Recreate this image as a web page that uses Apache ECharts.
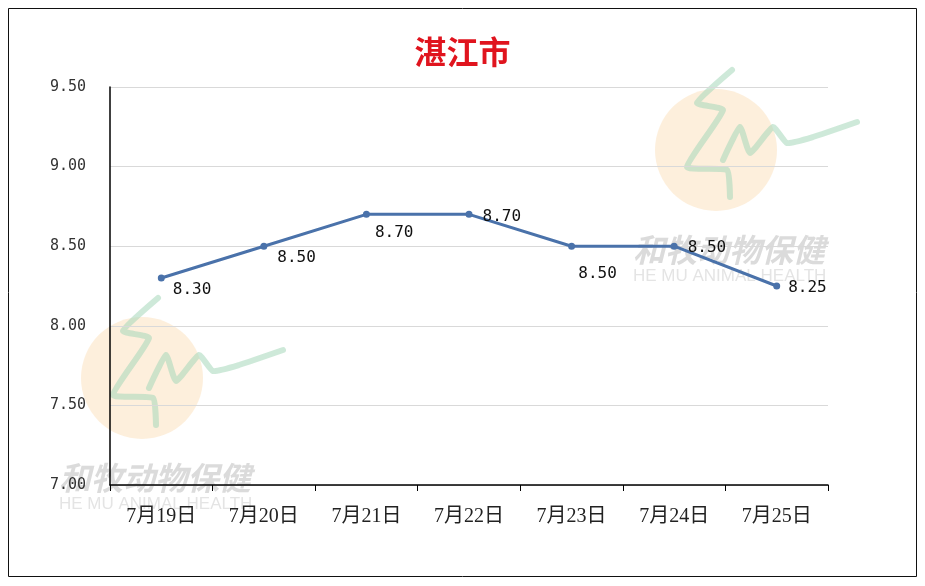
<!DOCTYPE html>
<html><head><meta charset="utf-8">
<script src="https://cdn.jsdelivr.net/npm/echarts@6/dist/echarts.min.js"></script>
<style>html,body{margin:0;padding:0;background:#fff;}#c{width:925px;height:586px;}</style>
</head><body><div id="c"></div>
<script>
const categories = ['7月19日','7月20日','7月21日','7月22日','7月23日','7月24日','7月25日'];
const prices = [8.30, 8.50, 8.70, 8.70, 8.50, 8.50, 8.25];
const yTicks = {min: 7.0, max: 9.5, interval: 0.5};
const titleText = '湛江市';

const labelOffsets = [[3,12],[5,12],[0,18],[5,2],[26,11],[5,2],[3,2]];
const labelPos = ['right','right','right','right','bottom','right','right'];

function logo(dx, dy){
  const pts = (arr)=>arr.map(p=>[p[0]+dx,p[1]+dy]);
  const green = 'rgba(165,215,185,0.55)';
  return [
    {type:'circle', shape:{cx:716+dx, cy:150+dy, r:61}, style:{fill:'rgba(252,224,185,0.5)'}, z:-10},
    {type:'polyline', shape:{points:pts([[732,70],[697,103],[723,110],[687,167],[727,170],[730,197]]), smooth:0.15}, style:{stroke:green, lineWidth:6, fill:null, lineCap:'round', lineJoin:'round'}, z:-9},
    {type:'polyline', shape:{points:pts([[723,160],[740,127],[750,153],[773,127],[787,143],[813,137],[857,122]]), smooth:0.15}, style:{stroke:green, lineWidth:6, fill:null, lineCap:'round', lineJoin:'round'}, z:-9},
    {type:'text', style:{text:'和牧动物保健', x:633+dx, y:234+dy, fill:'rgba(175,175,175,0.45)', font:'italic bold 32px "Noto Sans CJK SC"'}, z:-9},
    {type:'text', style:{text:'HE MU ANIMAL HEALTH', x:633+dx, y:268+dy, fill:'rgba(195,195,195,0.45)', font:'17px "Liberation Sans", Arial'}, z:-9}
  ];
}

const chart = echarts.init(document.getElementById('c'));
chart.setOption({
  backgroundColor:'#fff',
  animation:false,
  title:{text:titleText, left:'center', top:31, textStyle:{color:'#e0141e', fontSize:32, fontWeight:'bold', fontFamily:'"Noto Sans CJK SC"'}},
  graphic:[
    {type:'rect', shape:{x:8.5,y:8.5,width:908,height:568}, style:{fill:null, stroke:'#111', lineWidth:1}, z:-20},
    ...logo(0,0), ...logo(-574,228)
  ],
  grid:{left:110, right:97, top:87, bottom:101, containLabel:false},
  xAxis:{type:'category', data:categories, boundaryGap:true, z:10,
    axisLine:{lineStyle:{color:'#000', width:1.5}},
    axisTick:{show:true, length:6, lineStyle:{color:'#000'}},
    axisLabel:{color:'#222', fontSize:20, margin:22, fontFamily:'"Liberation Serif", "Noto Sans CJK SC", serif'}
  },
  yAxis:{type:'value', min:yTicks.min, max:yTicks.max, interval:yTicks.interval, z:10,
    axisLine:{show:true, lineStyle:{color:'#000', width:1.5}},
    axisTick:{show:false},
    splitLine:{lineStyle:{color:'#d9d9d9'}},
    axisLabel:{color:'#333', fontSize:15, margin:24, fontFamily:'"DejaVu Sans Mono", monospace', formatter:v=>v.toFixed(2)}
  },
  series:[{type:'line', data:prices.map((v,i)=>({value:v, label:{position:labelPos[i], offset:labelOffsets[i]}})),
    symbol:'circle', symbolSize:7,
    lineStyle:{color:'#4a72aa', width:3},
    itemStyle:{color:'#4a72aa'},
    label:{show:true, color:'#111', fontSize:16, fontFamily:'"DejaVu Sans Mono", monospace', formatter:p=>p.value.toFixed(2)},
    z:20
  }]
});
</script></body></html>
